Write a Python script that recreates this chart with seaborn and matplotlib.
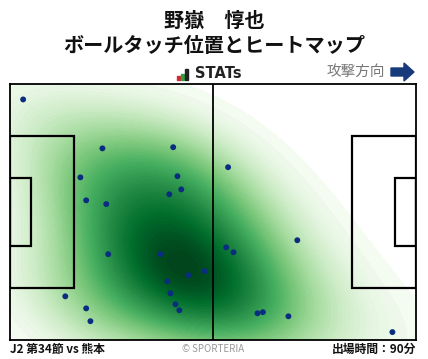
import numpy as np
import pandas as pd
import matplotlib
matplotlib.use("Agg")
import matplotlib.pyplot as plt
from matplotlib.patches import Rectangle, FancyArrow
import seaborn as sns

sns.set_theme(style="white")
plt.rcParams['font.family'] = ['Noto Sans CJK JP', 'DejaVu Sans']

title_name = "野嶽　惇也"
title_sub = "ボールタッチ位置とヒートマップ"
match_label = "J2 第34節 vs 熊本"
minutes_label = "出場時間：90分"
credit = "© SPORTERIA"
direction_label = "攻撃方向"

# touch positions on a 105 x 68 pitch (x: attacking to the right, y: from top)
touch_x = [3.4, 23.9, 42.2, 18.2, 43.3, 44.3, 41.2, 19.7, 24.9, 56.4,
           25.4, 38.9, 50.3, 46.1, 40.7, 41.5, 14.3, 42.8, 43.8, 19.7,
           20.8, 74.3, 55.9, 57.8, 64.0, 65.4, 72.0, 98.9]
touch_y = [4.1, 17.1, 16.8, 24.8, 24.5, 28.0, 29.3, 30.9, 31.9, 22.1,
           45.2, 45.2, 49.7, 50.8, 52.4, 55.6, 56.4, 58.5, 60.1, 59.6,
           63.0, 41.5, 43.4, 44.7, 60.9, 60.6, 61.7, 65.9]

df = pd.DataFrame({"x": touch_x, "y": touch_y})

fig = plt.figure(figsize=(4.28, 3.59), dpi=100)
W, H = 428, 359
ax = fig.add_axes([10 / W, (H - 340) / H, 406 / W, 256 / H])

sns.kdeplot(data=df, x="x", y="y", fill=True, cmap="Greens", levels=70,
            thresh=0.015, bw_adjust=1.4, gridsize=120, cut=10,
            clip=((0, 105), (0, 68)), ax=ax, zorder=1, antialiased=False)
sns.scatterplot(data=df, x="x", y="y", color="#0a2d80", s=18, edgecolor="none",
                ax=ax, zorder=5)

lw = 1.6
lc = "black"
# centre line
ax.plot([52.5, 52.5], [0, 68], color=lc, lw=1.3, zorder=4)
# penalty areas
ax.add_patch(Rectangle((0, 13.84), 16.5, 40.32, fill=False, lw=lw, ec=lc, zorder=4))
ax.add_patch(Rectangle((105 - 16.5, 13.84), 16.5, 40.32, fill=False, lw=lw, ec=lc, zorder=4))
# goal areas
ax.add_patch(Rectangle((0, 24.84), 5.5, 18.32, fill=False, lw=lw, ec=lc, zorder=4))
ax.add_patch(Rectangle((105 - 5.5, 24.84), 5.5, 18.32, fill=False, lw=lw, ec=lc, zorder=4))

ax.set_xlim(0, 105)
ax.set_ylim(68, 0)
ax.set_xlabel("")
ax.set_ylabel("")
ax.set_xticks([])
ax.set_yticks([])
for s in ax.spines.values():
    s.set_visible(True)
    s.set_color("black")
    s.set_linewidth(1.3)

# titles
fig.text(0.5, 1 - 20 / H, title_name, ha="center", va="center", fontsize=14.5,
         fontweight="bold", color="#111111")
fig.text(0.5, 1 - 46 / H, title_sub, ha="center", va="center", fontsize=14.5,
         fontweight="bold", color="#111111")

# STATs logo
bars = [(177, 76, 3, 4, "#d9262b"), (181, 74, 3, 6, "#2e9e3e"), (185, 69, 3, 11, "#222222")]
for bx, by, bw, bh, bc in bars:
    fig.patches.append(Rectangle((bx / W, 1 - (by + bh) / H), bw / W, bh / H,
                                 transform=fig.transFigure, color=bc, zorder=3))
fig.text(195 / W, 1 - 74 / H, "STATs", ha="left", va="center", fontsize=10.5,
         fontweight="bold", color="#222222", family=["DejaVu Sans"])

# attack direction
fig.text(385 / W, 1 - 72 / H, direction_label, ha="right", va="center", fontsize=10.5,
         color="#777777")
fig.patches.append(FancyArrow(391 / W, 1 - 72 / H, 13 / W, 0, width=8 / H,
                              head_width=18 / H, head_length=10 / W,
                              length_includes_head=False, transform=fig.transFigure,
                              color="#173a7a"))

# footer
fig.text(10 / W, 1 - 349 / H, match_label, ha="left", va="center", fontsize=8.5,
         fontweight="bold", color="#111111")
fig.text(213 / W, 1 - 349 / H, credit, ha="center", va="center", fontsize=7,
         color="#999999")
fig.text(416 / W, 1 - 349 / H, minutes_label, ha="right", va="center", fontsize=8.5,
         fontweight="bold", color="#111111")

fig.savefig("out.png", dpi=100)
